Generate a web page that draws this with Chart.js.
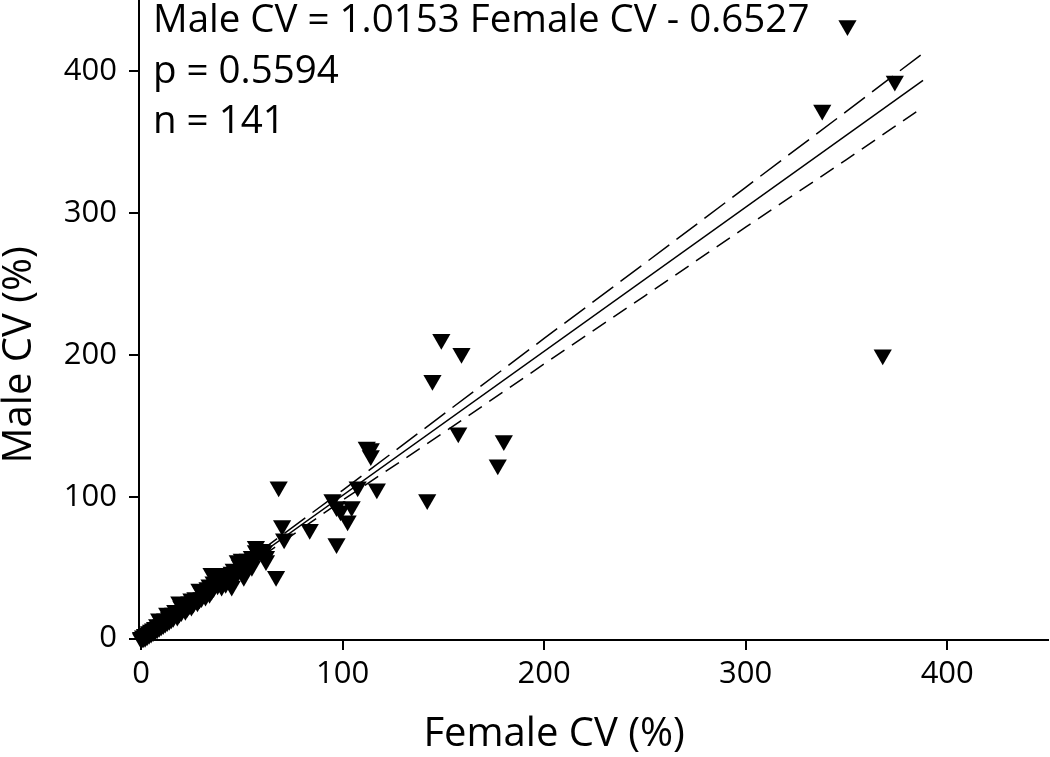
<!DOCTYPE html>
<html>
<head>
<meta charset="utf-8">
<script src="https://cdn.jsdelivr.net/npm/chart.js@4.4.1/dist/chart.umd.min.js"></script>
<style>
  html, body { margin: 0; padding: 0; background: #fff; }
  #wrap { width: 1050px; height: 757px; position: relative; }
</style>
</head>
<body>
<div id="wrap"><canvas id="c" width="1050" height="757"></canvas></div>
<script>
// ---- data ----
const femaleCV = [
  350.5, 374, 338, 368, 149, 159, 144.6, 157.4, 180, 177, 142, 112, 114, 114, 117, 107.5,
  95, 97, 99, 104.5, 102.5, 97, 83.7, 68.3, 70, 71, 67, 57, 60, 62, 55, 50, 46, 45, 35, 51,
  0, 0.5, 1, 1, 2, 2, 3, 3, 4, 4, 5, 5, 6, 6, 7, 7, 8, 8, 9, 9, 10, 10, 11, 11, 12, 12, 13, 13,
  14, 15, 15, 16, 16, 17, 18, 19, 19, 20, 20, 21, 22, 22, 23, 24, 25, 25, 26, 27, 28, 29, 29,
  30, 30, 31, 32, 33, 34, 34, 35, 36, 36, 37, 38, 39, 39, 40, 40, 41, 42, 43, 44, 45, 46, 48,
  48, 49, 50, 51, 52, 53, 54, 55, 56, 57, 58, 59, 60, 61, 62,
  0, 1, 2, 3, 4, 5, 6, 7, 8, 9, 10, 12, 14, 16, 18, 24
];
const maleCV = [
  432, 393, 372.5, 200, 211, 201, 182, 145, 139.5, 122.5, 98, 135, 134, 129, 105.6, 107,
  98, 93, 90, 93, 83, 67, 77, 107, 79.6, 70.4, 44, 65, 63, 55, 51, 56, 49, 37, 46, 44,
  0, 1, 0.5, 2, 1, 3, 2, 4, 3, 5, 4, 6, 5, 7, 6, 8, 7, 10, 8, 14, 9, 12, 10, 13, 11, 14, 12, 18,
  13, 17, 14, 18, 15, 20, 16, 18, 26, 23, 19, 22, 20, 25, 22, 26, 23, 28, 25, 29, 26, 28, 35,
  33, 29, 32, 30, 36, 32, 38, 34, 40, 36, 42, 38, 40, 46, 42, 37, 44, 39, 46, 43, 47, 44, 55,
  47, 52, 48, 54, 51, 56, 53, 58, 57, 62, 60, 63, 61, 62, 58,
  1, 1, 2, 3, 4, 5, 6, 7, 8, 9, 10, 13, 15, 17, 19, 24
];
const fitX = [0, 388];
const fitY = [-0.65, 393.3];
const ciX = [0, 20, 60, 100, 150, 200, 250, 300, 350, 388];
const ciUpper = [3.5, 22, 62.5, 104.5, 158, 211.5, 264.5, 318, 371.5, 412.5];
const ciLower = [-4.5, 17, 58, 97.5, 145, 193.5, 241.5, 290, 337.5, 374.5];
const xTicks = [0, 100, 200, 300, 400];
const yTicks = [0, 100, 200, 300, 400];
const annotationLines = ["Male CV = 1.0153 Female CV - 0.6527", "p = 0.5594", "n = 141"];
const xTitle = "Female CV (%)";
const yTitle = "Male CV (%)";
// ----------------------------------------------

const FONT = "'Open Sans', 'DejaVu Sans', sans-serif";
const pts = femaleCV.map((x, i) => ({ x: x, y: maleCV[i] }));
const fit = fitX.map((x, i) => ({ x: x, y: fitY[i] }));
const up = ciX.map((x, i) => ({ x: x, y: ciUpper[i] }));
const lo = ciX.map((x, i) => ({ x: x, y: ciLower[i] }));

const textPlugin = {
  id: 'texts',
  afterDraw(chart) {
    const ctx = chart.ctx;
    const xs = chart.scales.x, ys = chart.scales.y;
    ctx.save();
    ctx.fillStyle = '#000';
    // annotation
    ctx.font = "38.5px " + FONT;
    ctx.textAlign = 'left';
    ctx.textBaseline = 'alphabetic';
    const base = [32, 83, 133];
    annotationLines.forEach((t, i) => ctx.fillText(t, 153, base[i]));
    // x title
    ctx.font = "40px " + FONT;
    ctx.textAlign = 'center';
    ctx.textBaseline = 'middle';
    const xc = (xs.getPixelForValue(xTicks[0]) + xs.getPixelForValue(xTicks[xTicks.length - 1])) / 2 + 10;
    ctx.fillText(xTitle, xc, 735);
    // y title
    const yc = (ys.getPixelForValue(yTicks[0]) + ys.getPixelForValue(yTicks[yTicks.length - 1])) / 2;
    ctx.translate(20, yc);
    ctx.rotate(-Math.PI / 2);
    ctx.fillText(yTitle, 0, 0);
    ctx.restore();
  }
};

function noPad(s) { s.paddingTop = 0; s.paddingBottom = 0; s.paddingLeft = 0; s.paddingRight = 0; }

new Chart(document.getElementById('c'), {
  type: 'scatter',
  data: {
    datasets: [
      {
        label: 'data', data: pts, order: 0, clip: false,
        pointStyle: 'triangle', rotation: 180, radius: 10.5, pointRadius: 10.5,
        backgroundColor: '#000', borderColor: '#000', borderWidth: 0
      },
      {
        label: 'fit', data: fit, order: 1, showLine: true, pointRadius: 0,
        borderColor: '#000', borderWidth: 1.5, fill: false
      },
      {
        label: 'upper', data: up, order: 1, showLine: true, pointRadius: 0,
        borderColor: '#000', borderWidth: 1.5, borderDash: [26, 9], fill: false
      },
      {
        label: 'lower', data: lo, order: 1, showLine: true, pointRadius: 0,
        borderColor: '#000', borderWidth: 1.5, borderDash: [16, 9], fill: false
      }
    ]
  },
  options: {
    responsive: false,
    animation: false,
    events: [],
    layout: { autoPadding: false, padding: { top: 0, right: 2, left: 0, bottom: 0 } },
    plugins: { legend: { display: false }, tooltip: { enabled: false } },
    scales: {
      x: {
        type: 'linear', min: -1, max: 450,
        afterBuildTicks: (s) => { s.ticks = xTicks.map(v => ({ value: v })); },
        afterFit: (s) => { s.height = 117; noPad(s); },
        ticks: { color: '#000', font: { family: FONT, size: 31 }, padding: 6, maxRotation: 0 },
        grid: { display: true, drawOnChartArea: false, drawTicks: true, tickLength: 10, color: '#000', lineWidth: 2 },
        border: { display: true, color: '#000', width: 2 }
      },
      y: {
        type: 'linear', min: -1, max: 450,
        afterBuildTicks: (s) => { s.ticks = yTicks.map(v => ({ value: v })); },
        afterFit: (s) => { s.width = 139; noPad(s); },
        ticks: { color: '#000', font: { family: FONT, size: 31 }, padding: 12 },
        grid: { display: true, drawOnChartArea: false, drawTicks: true, tickLength: 10, color: '#000', lineWidth: 2 },
        border: { display: true, color: '#000', width: 2 }
      }
    }
  },
  plugins: [textPlugin]
});
</script>
</body>
</html>
